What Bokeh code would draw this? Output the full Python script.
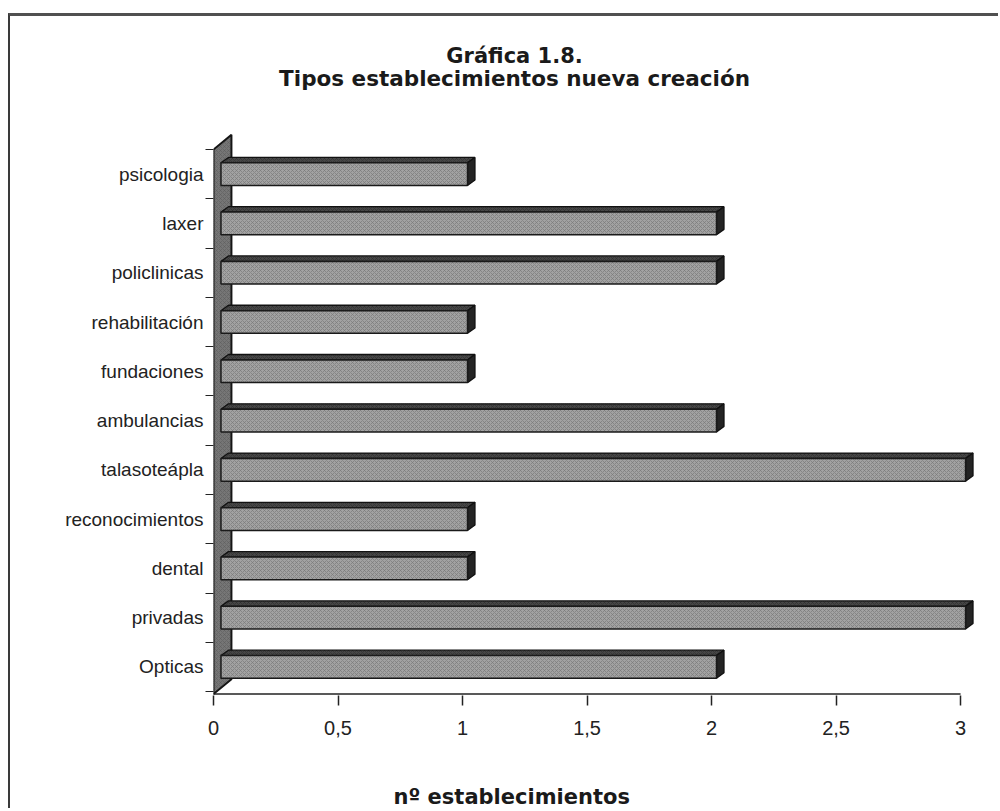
from bokeh.plotting import figure
from bokeh.models import Range1d, FixedTicker, Label, ColumnDataSource, Title, LinearAxis
from bokeh.embed import file_html
from bokeh.resources import INLINE

categories = ["Opticas", "privadas", "dental", "reconocimientos", "talasoteápla",
              "ambulancias", "fundaciones", "rehabilitación", "policlinicas", "laxer", "psicologia"]
values = [2, 3, 1, 1, 3, 2, 1, 1, 2, 2, 1]
x_ticks = [0, 0.5, 1, 1.5, 2, 2.5, 3]
x_tick_labels = ["0", "0,5", "1", "1,5", "2", "2,5", "3"]
title_lines = ["Gráfica 1.8.", "Tipos establecimientos nueva creación"]
x_title = "nº establecimientos"

FONT = "Liberation Sans"
TFONT = "DejaVu Sans"
n = len(categories)
ypos = list(range(n))
y_floor = -0.55

p = figure(width=990, height=795, output_backend="svg", toolbar_location=None,
           x_range=Range1d(0, 3.06), y_range=Range1d(-0.58, 13.2),
           min_border_left=203, min_border_right=25, min_border_top=0, min_border_bottom=116)
p.outline_line_color = None
p.grid.grid_line_color = None
p.background_fill_color = "white"
p.border_fill_color = "white"
p.styles = {"margin-left": "8px", "margin-top": "13px",
            "border-left": "2px solid #3a3a3a", "border-top": "3px solid #505050"}

# floor line
p.segment(x0=[-0.05], y0=[y_floor], x1=[x_ticks[-1]], y1=[y_floor], line_color="#222222", line_width=1.5)

# wall (3D y-axis)
wd, wdy = 0.072, 0.3
p.patch([0, 0, wd, wd], [y_floor, n - 0.5, n - 0.5 + wdy, y_floor + wdy],
        fill_color="#767676", line_color="#151515", line_width=2,
        hatch_pattern="x", hatch_color="#5c5c5c", hatch_scale=4, hatch_weight=0.6)

# bars
h = 0.23
x0 = 0.03
ddx, ddy = 0.03, 0.11
ends = [v + 0.02 for v in values]
src = ColumnDataSource(dict(left=[x0] * n, right=ends,
                            bottom=[y - h for y in ypos], top=[y + h for y in ypos]))
top_xs = [[x0, x0 + ddx, e + ddx, e] for e in ends]
top_ys = [[y + h, y + h + ddy, y + h + ddy, y + h] for y in ypos]
side_xs = [[e, e, e + ddx, e + ddx] for e in ends]
side_ys = [[y - h, y + h, y + h + ddy, y - h + ddy] for y in ypos]
p.patches(top_xs, top_ys, fill_color="#464646", line_color="#111111", line_width=1.3,
          hatch_pattern="x", hatch_color="#2c2c2c", hatch_scale=4, hatch_weight=0.6)
p.patches(side_xs, side_ys, fill_color="#242424", line_color="#111111", line_width=1.3)
p.quad(left="left", right="right", bottom="bottom", top="top", source=src,
       fill_color="#a2a2a2", line_color="#1a1a1a", line_width=1.5,
       hatch_pattern="x", hatch_color="#7a7a7a", hatch_scale=4, hatch_weight=0.7)

# x axis
xa = p.xaxis[0]
xa.ticker = FixedTicker(ticks=x_ticks)
xa.major_label_overrides = {t: l for t, l in zip(x_ticks, x_tick_labels)}
xa.major_tick_out = 10
xa.major_tick_in = 0
xa.minor_tick_out = 0
xa.minor_tick_in = 0
xa.axis_line_color = None
xa.major_tick_line_color = "#222222"
xa.major_tick_line_width = 1.5
xa.major_label_text_font = FONT
xa.major_label_text_font_size = "20px"
xa.major_label_text_color = "#222222"
xa.major_label_standoff = 15

# invisible spacer axis between the tick labels and the axis title
spacer = LinearAxis(ticker=FixedTicker(ticks=[1.5]), major_label_overrides={1.5: ""},
                    major_tick_out=44, major_tick_in=0, minor_tick_out=0, minor_tick_in=0,
                    axis_line_color=None, major_tick_line_color=None, minor_tick_line_color=None,
                    major_label_standoff=0)
p.add_layout(spacer, "below")

# x axis title (shifted left like the reference)
xt = Title(text=x_title, align="left", offset=180, text_font=TFONT, text_font_style="bold",
           text_font_size="21px", text_color="#1a1a1a")
if "standoff" in Title.properties():
    xt.standoff = 2
p.add_layout(xt, "below")

# y axis
ya = p.yaxis[0]
ya.ticker = FixedTicker(ticks=ypos, minor_ticks=[y - 0.5 for y in ypos] + [n - 0.5])
ya.major_label_overrides = {y: c for y, c in zip(ypos, categories)}
ya.major_tick_out = 0
ya.major_tick_in = 0
ya.minor_tick_out = 8
ya.minor_tick_in = 0
ya.minor_tick_line_color = "#222222"
ya.minor_tick_line_width = 1.2
ya.axis_line_color = None
ya.major_label_text_font = FONT
ya.major_label_text_font_size = "19px"
ya.major_label_text_color = "#222222"
ya.major_label_standoff = 2

# titles
p.add_layout(Label(x=1.209, y=12.40, text=title_lines[0], text_align="center", text_baseline="middle",
                   text_font=TFONT, text_font_style="bold", text_font_size="21px", text_color="#1a1a1a"))
p.add_layout(Label(x=1.209, y=11.94, text=title_lines[1], text_align="center", text_baseline="middle",
                   text_font=TFONT, text_font_style="bold", text_font_size="21.5px", text_color="#1a1a1a"))

open("out.html", "w").write(file_html(p, INLINE))
